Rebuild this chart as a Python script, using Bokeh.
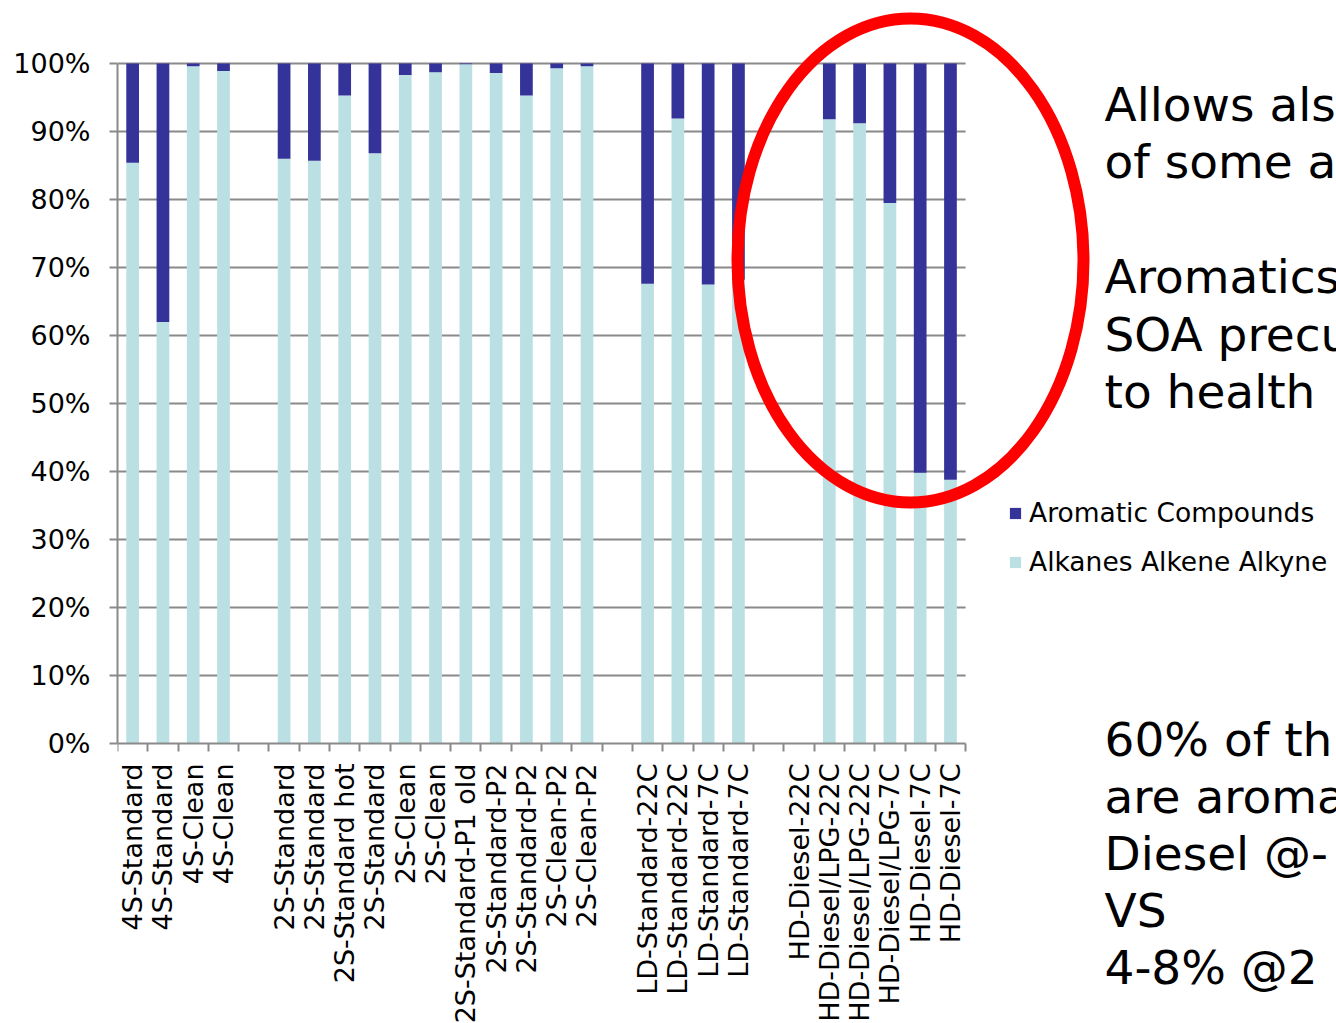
import math
from bokeh.plotting import figure
from bokeh.models import (Range1d, FixedTicker, PrintfTickFormatter, Legend, LegendItem,
                          Label, ColumnDataSource)
from bokeh.embed import file_html
from bokeh.resources import INLINE

NAN = float("nan")

# Vehicle / engine categories, in four groups
cats_4s = ["4S-Standard", "4S-Standard", "4S-Clean", "4S-Clean"]
cats_2s = ["2S-Standard", "2S-Standard", "2S-Standard hot", "2S-Standard", "2S-Clean",
           "2S-Clean", "2S-Standard-P1 old", "2S-Standard-P2", "2S-Standard-P2",
           "2S-Clean-P2", "2S-Clean-P2"]
cats_ld = ["LD-Standard-22C", "LD-Standard-22C", "LD-Standard-7C", "LD-Standard-7C"]
cats_hd = ["HD-Diesel-22C", "HD-Diesel/LPG-22C", "HD-Diesel/LPG-22C", "HD-Diesel/LPG-7C",
           "HD-Diesel-7C", "HD-Diesel-7C"]

# Share of alkanes/alkenes/alkynes (%)
alkanes_4s = [85.4, 62.0, 99.6, 98.9]
alkanes_2s = [86.0, 85.7, 95.3, 86.8, 98.3, 98.7, 99.9, 98.6, 95.3, 99.3, 99.6]
alkanes_ld = [67.6, 91.9, 67.5, 68.2]
alkanes_hd = [NAN, 91.8, 91.2, 79.5, 39.8, 38.8]

# Share of aromatic compounds (%)
aromatic_4s = [14.6, 38.0, 0.4, 1.1]
aromatic_2s = [14.0, 14.3, 4.7, 13.2, 1.7, 1.3, 0.1, 1.4, 4.7, 0.7, 0.4]
aromatic_ld = [32.4, 8.1, 32.5, 31.8]
aromatic_hd = [NAN, 8.2, 8.8, 20.5, 60.2, 61.2]

y_ticks = [0, 10, 20, 30, 40, 50, 60, 70, 80, 90, 100]

notes_upper = ["Allows als", "of some a", "", "Aromatics", "SOA precu", "to health"]
notes_lower = ["60% of th", "are aroma", "Diesel @-", "VS", "4-8% @2"]

DARK = "#333399"
LIGHT = "#BBE0E4"
GRAY = "#8A8A8A"
FONT = "DejaVu Sans"

# one slot per category, one empty slot between groups
groups = [(cats_4s, alkanes_4s, aromatic_4s), (cats_2s, alkanes_2s, aromatic_2s),
          (cats_ld, alkanes_ld, aromatic_ld), (cats_hd, alkanes_hd, aromatic_hd)]
xs, labels, alk, aro = [], [], [], []
slot = 0
for cats, a1, a2 in groups:
    for c, v1, v2 in zip(cats, a1, a2):
        xs.append(slot + 0.5)
        labels.append(c)
        alk.append(v1)
        aro.append(v2)
        slot += 1
    slot += 1
n_slots = slot - 1

source = ColumnDataSource(dict(x=xs, alk=alk, aro=aro))

# pixel geometry: the frame covers the canvas right of the y axis,
# the category axis sits at the 0% line inside it
W, H = 1336, 1023
LEFT = 117
ZERO_PX = 743            # canvas row of the 0% line
slot_px = 30.29
pct_px = 6.8
frame_w = W - LEFT
below = H - ZERO_PX      # room under the 0% line

p = figure(width=W, height=H, output_backend="svg", toolbar_location=None,
           x_range=Range1d(0, frame_w / slot_px),
           y_range=Range1d(-below / pct_px, ZERO_PX / pct_px),
           min_border_left=LEFT, min_border_right=0, min_border_top=0,
           min_border_bottom=0)
p.outline_line_color = None
p.xgrid.visible = False
p.ygrid.visible = False
p.background_fill_color = "white"
p.border_fill_color = "white"


def sx(px):
    """canvas column -> frame screen x"""
    return px - LEFT


def sy(py):
    """canvas row -> frame screen y (measured upward from the frame bottom)"""
    return H - py


# horizontal gridlines spanning the category area only
grid_y = y_ticks[1:]
p.segment(x0=[0] * len(grid_y), x1=[n_slots] * len(grid_y), y0=grid_y, y1=grid_y,
          line_color=GRAY, line_width=2)

bars = p.vbar_stack(["alk", "aro"], x="x", width=0.42, source=source,
                    fill_color=[LIGHT, DARK], line_color=None)

# highlight around the heavy-duty diesel bars
p.ellipse(x=sx(910) / slot_px, y=(ZERO_PX - 260) / pct_px, width=346, height=484,
          width_units="screen", height_units="screen", fill_color=None,
          line_color="#FF0000", line_width=12)

# x axis: labels at bar centres, tick marks between slots
xa = p.xaxis[0]
xa.fixed_location = 0
xa.ticker = FixedTicker(ticks=xs, minor_ticks=list(range(0, n_slots + 1)))
xa.major_label_overrides = {x: lab for x, lab in zip(xs, labels)}
xa.bounds = (0, n_slots)
xa.major_tick_line_color = None
xa.major_tick_out = 0
xa.major_tick_in = 0
xa.minor_tick_out = 8
xa.minor_tick_in = 0
xa.minor_tick_line_color = GRAY
xa.minor_tick_line_width = 2
xa.axis_line_color = GRAY
xa.axis_line_width = 2
xa.major_label_orientation = math.pi / 2
xa.major_label_standoff = 12
xa.major_label_text_font = FONT
xa.major_label_text_font_size = "27px"
xa.major_label_text_color = "#000000"

ya = p.yaxis[0]
ya.ticker = FixedTicker(ticks=y_ticks)
ya.formatter = PrintfTickFormatter(format="%d%%")
ya.bounds = (0, 100)
ya.major_tick_out = 8
ya.major_tick_in = 0
ya.major_tick_line_color = GRAY
ya.major_tick_line_width = 2
ya.minor_tick_line_color = None
ya.axis_line_color = GRAY
ya.axis_line_width = 2
ya.major_label_standoff = 19
ya.major_label_text_font = FONT
ya.major_label_text_font_size = "27px"
ya.major_label_text_color = "#000000"

legend = Legend(items=[LegendItem(label="Aromatic Compounds", renderers=[bars[1]]),
                       LegendItem(label="Alkanes Alkene Alkyne", renderers=[bars[0]])],
                location=(sx(1008), sy(577)), padding=0, margin=0, spacing=18,
                glyph_width=14, glyph_height=14, label_standoff=7, label_height=30,
                label_text_font=FONT, label_text_font_size="26.5px",
                label_text_color="#000000", border_line_color=None,
                background_fill_alpha=0)
p.add_layout(legend)

# commentary next to the chart (y = row of the text's bottom edge)
for i, txt in enumerate(notes_upper):
    if txt:
        p.add_layout(Label(x=sx(1104), y=sy(104 + i * 57.4), x_units="screen",
                           y_units="screen", text=txt, text_font=FONT,
                           text_font_size="47px", text_color="#000000",
                           text_baseline="alphabetic"))
for i, txt in enumerate(notes_lower):
    p.add_layout(Label(x=sx(1104), y=sy(739 + i * 57.0), x_units="screen",
                       y_units="screen", text=txt, text_font=FONT,
                       text_font_size="47px", text_color="#000000",
                       text_baseline="alphabetic"))

open("out.html", "w").write(file_html(p, INLINE))
